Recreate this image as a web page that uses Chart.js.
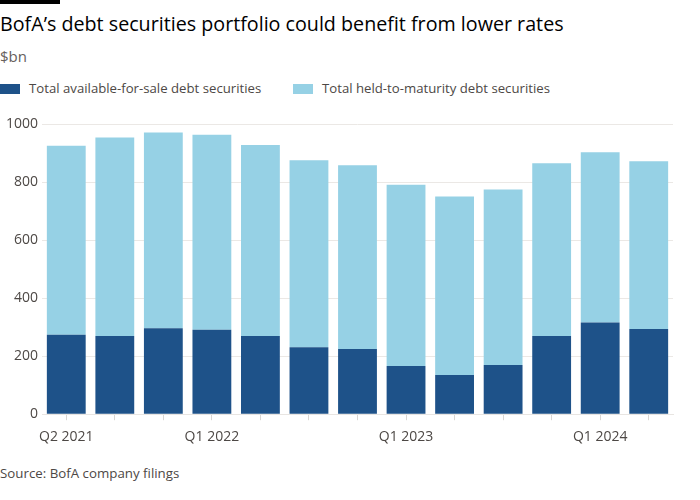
<!DOCTYPE html>
<html>
<head>
<meta charset="utf-8">
<script src="https://cdn.jsdelivr.net/npm/chart.js@4"></script>
<style>
  body { margin: 0; background: #fff; font-family: "Open Sans", sans-serif; }
  #wrap { position: relative; width: 700px; height: 500px; overflow: hidden; }
  #topbar { position: absolute; left: 0; top: 0; width: 60px; height: 4px; background: #000; }
  #title { position: absolute; left: 0; top: 10px; font-size: 19.7px; color: #000; white-space: nowrap; }
  #sub { position: absolute; left: 0; top: 46px; font-size: 15px; color: #66605c; }
  #legend { position: absolute; left: 0; top: 78px; font-size: 13.2px; color: #4d4845; }
  #legend span.item { position: absolute; white-space: nowrap; line-height: 20px; }
  #legend i { display: inline-block; width: 20px; height: 10px; vertical-align: -1px; margin-right: 9px; }
  #source { position: absolute; left: 0; top: 464px; font-size: 13.3px; color: #4d4845; }
  #box { position: absolute; left: 0; top: 112px; width: 700px; height: 341px; }
</style>
</head>
<body>
<div id="wrap">
  <div id="topbar"></div>
  <div id="title">BofA’s debt securities portfolio could benefit from lower rates</div>
  <div id="sub">$bn</div>
  <div id="legend"></div>
  <div id="box"><canvas id="chart"></canvas></div>
  <div id="source">Source: BofA company filings</div>
</div>
<script>
// quarters Q2 2021 .. Q2 2024
const quarters = ['Q2 2021', 'Q3 2021', 'Q4 2021', 'Q1 2022', 'Q2 2022', 'Q3 2022', 'Q4 2022',
                  'Q1 2023', 'Q2 2023', 'Q3 2023', 'Q4 2023', 'Q1 2024', 'Q2 2024'];
const tickLabels = ['Q2 2021', 'Q1 2022', 'Q1 2023', 'Q1 2024'];
const availableForSale = [274, 270, 297, 291, 270, 231, 225, 166, 135, 170, 270, 316, 294];
const heldToMaturity = [652, 685, 675, 673, 659, 645, 634, 626, 616, 605, 596, 588, 579];
const seriesNames = ['Total available-for-sale debt securities', 'Total held-to-maturity debt securities'];
const seriesColors = ['#1e5289', '#96d1e5'];

// html legend
const legend = document.getElementById('legend');
const legendX = [0, 293];
seriesNames.forEach(function (name, i) {
    const item = document.createElement('span');
    item.className = 'item';
    item.style.left = legendX[i] + 'px';
    item.innerHTML = '<i style="background:' + seriesColors[i] + '"></i>' + name;
    legend.appendChild(item);
});

const ctx = document.getElementById('chart').getContext('2d');
const chart = new Chart(ctx, {
    type: 'bar',
    data: {
        labels: quarters,
        datasets: [{
            label: seriesNames[0],
            data: availableForSale,
            backgroundColor: seriesColors[0],
            barPercentage: 0.8,
            categoryPercentage: 1.0,
        }, {
            label: seriesNames[1],
            data: heldToMaturity,
            backgroundColor: seriesColors[1],
            barPercentage: 0.8,
            categoryPercentage: 1.0,
        }],
    },
    options: {
        responsive: true,
        maintainAspectRatio: false,
        animation: false,
        layout: { padding: { top: 4, right: 27, left: 0, bottom: 0 } },
        plugins: {
            legend: { display: false },
            tooltip: { enabled: false },
        },
        scales: {
            x: {
                stacked: true,
                grid: {
                    display: true,
                    offset: false,
                    drawOnChartArea: false,
                    drawTicks: true,
                    tickLength: 6,
                    color: '#d9d6d3',
                },
                border: { display: true, color: '#e8e5e2' },
                ticks: {
                    autoSkip: false,
                    maxRotation: 0,
                    padding: 8,
                    color: '#4d4845',
                    font: { family: 'Open Sans', size: 14 },
                    callback: function (value, index) {
                        const q = quarters[index];
                        return tickLabels.includes(q) ? q : '';
                    },
                },
            },
            y: {
                stacked: true,
                min: 0,
                max: 1000,
                grid: { color: '#ebe8e5', drawTicks: false },
                border: { display: false },
                ticks: {
                    stepSize: 200,
                    padding: 4,
                    color: '#4d4845',
                    font: { family: 'Open Sans', size: 14 },
                    callback: function (value) { return String(value); },
                },
                afterFit: function (scale) { scale.width = 42; },
            },
        },
    },
});
</script>
</body>
</html>
